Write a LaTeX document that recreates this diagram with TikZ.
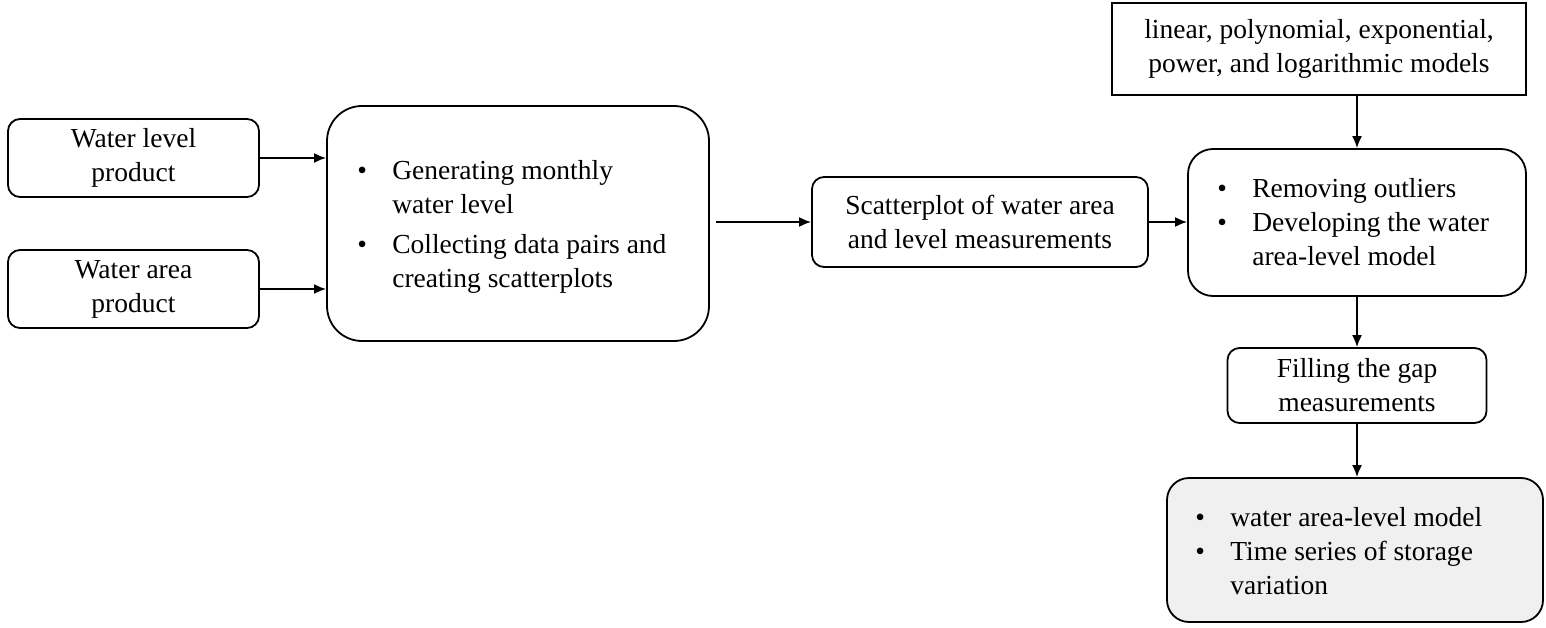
\documentclass[tikz,border=0pt]{standalone}
\usepackage{fontspec}
\setmainfont{Liberation Serif}
\usetikzlibrary{arrows.meta}
\definecolor{fingray}{HTML}{F0F0F0}
\begin{document}
\begin{tikzpicture}[x=1pt,y=-1pt,
  box/.style={draw, line width=1.8pt, rounded corners=12pt, align=center,
    font=\fontsize{27.5}{34}\selectfont, inner sep=0pt},
  txt/.style={anchor=west, align=left, inner sep=0pt, font=\fontsize{27.5}{34}\selectfont},
  arr/.style={-{Latex[length=12pt,width=10pt]}, line width=1.8pt}]
\useasboundingbox (0,0) rectangle (1546,628);
\newcommand{\blist}[1]{\begin{tabular}{@{}p{35pt}@{}l@{}}#1\end{tabular}}
% nodes
\node[box, minimum width=251pt, minimum height=78pt] (wl) at (133.5,158) {Water level\\product};
\node[box, minimum width=251pt, minimum height=78pt] (wa) at (133.5,289) {Water area\\product};
\node[box, rounded corners=35pt, minimum width=382pt, minimum height=235pt] (big) at (518,223.5) {};
\node[txt] (bigt) at ([xshift=31pt,yshift=-3pt]big.west) {\blist{\textbullet & Generating monthly\\ & water level\\[6pt]
  \textbullet & Collecting data pairs and\\ & creating scatterplots}};
\node[box, minimum width=336pt, minimum height=90pt] (sc) at (980,222) {Scatterplot of water area\\and level measurements};
\node[box, rounded corners=25pt, minimum width=338pt, minimum height=147pt] (rm) at (1357,222.5) {};
\node[txt] (rmt) at ([xshift=30pt,yshift=-2pt]rm.west) {\blist{\textbullet & Removing outliers\\
  \textbullet & Developing the water\\ & area-level model}};
\node[box, rounded corners=0pt, minimum width=414pt, minimum height=92pt] (top) at (1319,49) {linear, polynomial, exponential,\\power, and logarithmic models};
\node[box, minimum width=259pt, minimum height=75pt] (fill) at (1357,385.5) {Filling the gap\\measurements};
\node[box, rounded corners=22pt, fill=fingray, minimum width=376pt, minimum height=144pt] (fin) at (1355,550) {};
\node[txt] (fint) at ([xshift=29pt,yshift=-4pt]fin.west) {\blist{\textbullet & water area-level model\\
  \textbullet & Time series of storage\\ & variation}};
% connectors
\draw[arr] (wl.east) -- (big.west |- wl.east);
\draw[arr] (wa.east) -- (big.west |- wa.east);
\draw[arr] ([xshift=6pt]big.east |- sc.west) -- (sc.west);
\draw[arr] (sc.east) -- (rm.west |- sc.east);
\draw[arr] (top.south -| rm.north) -- (rm.north);
\draw[arr] (rm.south) -- (fill.north -| rm.south);
\draw[arr] (fill.south) -- (fin.north -| fill.south);
\end{tikzpicture}
\end{document}
